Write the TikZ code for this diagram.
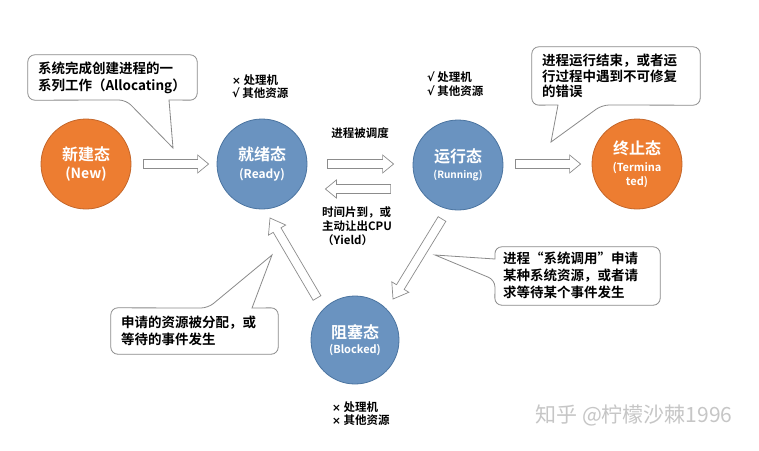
\documentclass[tikz,border=0pt]{standalone}
\usepackage{fontspec}
\setmainfont{Noto Sans CJK SC}[BoldFont={Noto Sans CJK SC Bold}]
\newfontfamily\symfont{DejaVu Sans}
\usetikzlibrary{calc}
\definecolor{orng}{HTML}{ED7D31}
\definecolor{orngdark}{HTML}{C4662A}
\definecolor{blu}{HTML}{6A93C0}
\definecolor{bludark}{HTML}{4B74A0}
\definecolor{arrgray}{HTML}{8C8C8C}
\definecolor{callgray}{HTML}{8A8A8A}
\definecolor{wmgray}{HTML}{C6C6C6}
\newcommand{\blockarrow}[5]{%
  \coordinate (ba-h) at ($(#2)!#5!(#1)$);
  \draw[blk] ($(#1)!#3!90:(#2)$) -- ($(ba-h)!#3!-90:(#1)$) -- ($(ba-h)!#4!-90:(#1)$) -- (#2)
    -- ($(ba-h)!#4!90:(#1)$) -- ($(ba-h)!#3!90:(#1)$) -- ($(#1)!#3!-90:(#2)$) -- cycle;}
\newcommand{\ck}{{\symfont\fontsize{11.5}{12}\selectfont √}}
\newcommand{\xx}{{\symfont\fontsize{10.5}{12}\selectfont ×}}
\begin{document}
\begin{tikzpicture}[x=1pt,y=-1pt,
  state/.style={circle, minimum size=90pt, inner sep=0pt, text=white, align=center, line width=0.8pt},
  orangest/.style={state, fill=orng, draw=orngdark},
  bluest/.style={state, fill=blu, draw=bludark},
  blk/.style={draw=arrgray, fill=white, line width=0.7pt, line join=miter},
  callout/.style={draw=callgray, fill=white, line width=0.8pt},
  calltext/.style={inner xsep=10pt, inner ysep=0pt, align=left, font=\bfseries\fontsize{13.5}{17}\selectfont, anchor=center},
  lbl/.style={inner sep=0pt, align=left, font=\bfseries\fontsize{11.5}{13.5}\selectfont, anchor=west},
  tlbl/.style={inner sep=0pt, align=left, font=\bfseries\fontsize{11.5}{14}\selectfont}
]
\useasboundingbox[fill=white] (0,0) rectangle (759,450);

% states
\node[orangest, font={\bfseries\fontsize{16}{18}\selectfont\lineskiplimit=-30pt}] (new) at (86,164) {新建态\\{\fontsize{14}{17}\selectfont (New)}};
\node[bluest, font={\bfseries\fontsize{16}{18}\selectfont\lineskiplimit=-30pt}] (ready) at (262,164) {就绪态\\{\fontsize{12}{14}\selectfont (Ready)}};
\node[bluest, font={\bfseries\fontsize{16}{15.5}\selectfont\lineskiplimit=-30pt}] (running) at (458,165) {运行态\\{\fontsize{10}{12}\selectfont (Running)}};
\node[orangest, font={\bfseries\fontsize{16}{14}\selectfont\lineskiplimit=-30pt}] (term) at (637,164) {终止态\\[3pt]{\fontsize{11}{13}\selectfont (Termina}\\{\fontsize{11}{13}\selectfont ted)}};
\node[bluest, minimum size=88pt, font={\bfseries\fontsize{16}{15.5}\selectfont\lineskiplimit=-30pt}] (blocked) at (355,340) {阻塞态\\{\fontsize{11}{13}\selectfont (Blocked)}};

% block arrows
\coordinate (nr-s) at ($(new.east)+(12,0)$);
\coordinate (nr-e) at ($(ready.west)+(-8,0)$);
\blockarrow{nr-s}{nr-e}{4.5pt}{9pt}{11pt}
\coordinate (rr-s) at ($(ready.east)+(20,0)$);
\coordinate (rr-e) at ($(running.west)+(-19,-1)$);
\blockarrow{rr-s}{rr-e}{4.5pt}{9pt}{11pt}
\coordinate (rb-s) at ($(running.west)+(-22,24)$);
\coordinate (rb-e) at ($(ready.east)+(18,25)$);
\blockarrow{rb-s}{rb-e}{4.5pt}{9pt}{11pt}
\coordinate (rt-s) at ($(running.east)+(12,-1)$);
\coordinate (rt-e) at ($(term.west)+(-11,0)$);
\blockarrow{rt-s}{rt-e}{4.5pt}{9pt}{11pt}
\coordinate (rk-s) at ($(running)+(-16,54)$);
\coordinate (rk-e) at ($(blocked)+(38,-41)$);
\blockarrow{rk-s}{rk-e}{4.5pt}{10pt}{14pt}
\coordinate (br-s) at ($(blocked)+(-38,-42)$);
\coordinate (br-e) at ($(ready)+(8,54)$);
\blockarrow{br-s}{br-e}{4.5pt}{10pt}{14pt}

% callouts
\node[calltext, minimum width=169pt, minimum height=45pt, text width=149pt] (c1) at (112.5,77.5) {};
\draw[callout] (173,148) -- (169,100) [rounded corners=7pt] -- (c1.south east) -- (c1.north east) -- (c1.north west) -- (c1.south west) -- (126,100) [sharp corners] -- cycle;
\node[calltext, text width=149pt] at (c1) {系统完成创建进程的一\\系列工作（Allocating）};

\node[calltext, minimum width=168pt, minimum height=58pt, text width=148pt] (c2) at (616,76) {};
\draw[callout] (551,142) -- (558,105) [rounded corners=7pt] -- (c2.south west) -- (c2.north west) -- (c2.north east) -- (c2.south east) -- (602,105) [sharp corners] -- cycle;
\node[calltext, text width=148pt, font=\bfseries\fontsize{13.5}{15.5}\selectfont] at (c2) {进程运行结束，或者运\\行过程中遇到不可修复\\的错误};

\node[calltext, inner xsep=8pt, minimum width=165pt, minimum height=58pt, text width=149pt] (c3) at (577.5,276) {};
\draw[callout] (435,255) -- (495,259) [rounded corners=7pt] -- (c3.north west) -- (c3.north east) -- (c3.south east) -- (c3.south west) -- (495,280) [sharp corners] -- cycle;
\node[calltext, inner xsep=8pt, text width=149pt, font=\bfseries\fontsize{13.5}{17}\selectfont] at ($(c3)+(0,-1)$) {进程“系统调用”申请\\某种系统资源，或者请\\求等待某个事件发生};

\node[calltext, minimum width=167pt, minimum height=46pt, text width=147pt] (c4) at (194.5,331) {};
\draw[callout] (272,255) -- (252,308) [rounded corners=7pt] -- (c4.north east) -- (c4.south east) -- (c4.south west) -- (c4.north west) -- (208,308) [sharp corners] -- cycle;
\node[calltext, text width=147pt] at (c4) {申请的资源被分配，或\\等待的事件发生};

% labels
\node[lbl] (res1) at (232,86.5) {\xx\ 处理机\\\ck\ 其他资源};
\node[lbl] (res2) at (427,84) {\ck\ 处理机\\\ck\ 其他资源};
\node[lbl] (res3) at (332,413.5) {\xx\ 处理机\\\xx\ 其他资源};
\node[tlbl] (sched) at (360,133) {进程被调度};
\node[tlbl, anchor=west] (yield) at (322,226) {时间片到，或\\主动让出CPU\\（Yield）};

% watermark
\node[inner sep=0pt, text=wmgray, font=\fontsize{21}{24}\selectfont] (wm) at (634,415) {知乎 @柠檬沙棘1996};
\end{tikzpicture}
\end{document}
